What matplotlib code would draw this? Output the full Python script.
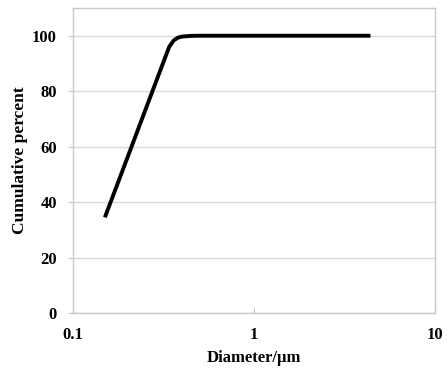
import matplotlib
matplotlib.use("Agg")
import matplotlib.pyplot as plt

diameter = [0.15, 0.2, 0.25, 0.3, 0.34, 0.36, 0.38, 0.4, 0.45, 0.5, 0.6, 1.0, 2.0, 4.4]
cumulative = [34.5, 56.1, 72.9, 86.6, 96.0, 98.3, 99.3, 99.7, 99.95, 100, 100, 100, 100, 100]
xticks = [0.1, 1, 10]
xticklabels = ["0.1", "1", "10"]
yticks = [0, 20, 40, 60, 80, 100]

plt.rcParams['font.family'] = ['Liberation Serif', 'DejaVu Serif']
fig = plt.figure(figsize=(4.48, 3.68), dpi=100)
ax = fig.add_axes([73/448, 1 - 313/368, (435-73)/448, (313-8)/368])

ax.plot(diameter, cumulative, color='black', lw=2.8, solid_capstyle='butt', solid_joinstyle='round')
ax.set_xscale('log')
ax.set_xlim(0.1, 10)
ax.set_ylim(0, 110)
ax.set_xticks(xticks)
ax.set_xticklabels(xticklabels)
ax.minorticks_off()
ax.set_yticks(yticks)
ax.yaxis.grid(True, color='#d9d9d9', lw=1)
ax.set_axisbelow(True)
for s in ax.spines.values():
    s.set_color('#c8c8c8')
    s.set_linewidth(1)
ax.tick_params(axis='y', direction='out', length=3.6, color='#c8c8c8', labelsize=12, pad=8)
ax.tick_params(axis='x', direction='in', length=4, color='#c8c8c8', labelsize=12, pad=10)
for lab in ax.get_xticklabels() + ax.get_yticklabels():
    lab.set_fontweight('bold')
ax.set_xlabel('Diameter/μm', fontsize=12, fontweight='bold', labelpad=5)
ax.set_ylabel('Cumulative percent', fontsize=12.5, fontweight='bold', labelpad=3)

fig.savefig('out.png', dpi=100)
